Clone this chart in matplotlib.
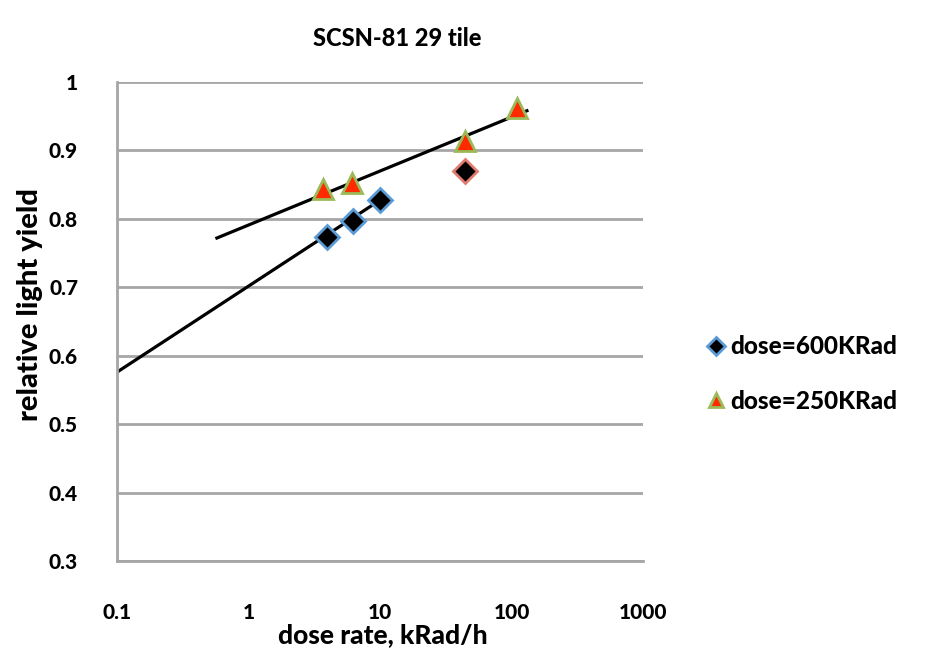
import numpy as np
import matplotlib
matplotlib.use('Agg')
import matplotlib.pyplot as plt

plt.rcParams['font.family'] = ['Lato', 'DejaVu Sans']
plt.rcParams['font.weight'] = 'bold'

# Datos
rate_600 = [3.95, 6.2, 10.0]
yield_600 = [0.774, 0.797, 0.828]
rate_600_extra = [44.0]
yield_600_extra = [0.870]

rate_250 = [3.7, 6.1, 44.0, 110.0]
yield_250 = [0.843, 0.852, 0.914, 0.962]

# Lineas de tendencia (extremos)
trend_600_x = [0.1, 10.5]
trend_600_y = [0.576, 0.830]
trend_250_x = [0.575, 131.0]
trend_250_y = [0.772, 0.958]

fig = plt.figure(figsize=(9.29, 6.66), dpi=100)
ax = fig.add_axes([117/929, 1-561/666, (643-117)/929, (561-82)/666])

ax.set_xscale('log')
ax.set_xlim(0.1, 1000)
ax.set_ylim(0.3, 1.0)

ax.plot(trend_600_x, trend_600_y, color='black', lw=2.3, zorder=2)
ax.plot(trend_250_x, trend_250_y, color='black', lw=2.3, zorder=2)

ax.plot(rate_600, yield_600, linestyle='none', marker='D', ms=12,
        mfc='black', mec='#5B9BD5', mew=2, zorder=3, label='dose=600KRad')
ax.plot(rate_600_extra, yield_600_extra, linestyle='none', marker='D', ms=12,
        mfc='black', mec='#E07B72', mew=2, zorder=3)
ax.plot(rate_250, yield_250, linestyle='none', marker='^', ms=14,
        mfc='#FF2A00', mec='#9BBB59', mew=2, zorder=3, label='dose=250KRad')

ax.set_yticks([0.3, 0.4, 0.5, 0.6, 0.7, 0.8, 0.9, 1.0])
ax.set_yticklabels(['0.3', '0.4', '0.5', '0.6', '0.7', '0.8', '0.9', '1'])
ax.set_xticks([0.1, 1, 10, 100, 1000])
ax.set_xticklabels(['0.1', '1', '10', '100', '1000'])
ax.minorticks_off()
ax.tick_params(length=0, labelsize=15)
ax.tick_params(axis='x', pad=30)
ax.tick_params(axis='y', pad=28)
for lbl in ax.get_xticklabels() + ax.get_yticklabels():
    lbl.set_fontweight('black')

ax.grid(axis='y', color='#A6A6A6', lw=2)
ax.set_axisbelow(True)
for s in ['top', 'right']:
    ax.spines[s].set_visible(False)
for s in ['left', 'bottom']:
    ax.spines[s].set_color('#A6A6A6')
    ax.spines[s].set_linewidth(2)

ax.set_xlabel('dose rate, kRad/h', fontsize=19, fontweight='black', va='center')
ax.xaxis.set_label_coords((383-117)/526, (561-635)/479)
ax.set_ylabel('relative light yield', fontsize=21, fontweight='black',
              va='center', ha='center')
ax.yaxis.set_label_coords((30-117)/526, (561-305)/479)
fig.text(397/929, 1-38/666, 'SCSN-81 29 tile', fontsize=17, fontweight='black',
         ha='center', va='center')

leg = ax.legend(loc='center left', bbox_to_anchor=(1.075, 0.39), frameon=False,
                fontsize=17.5, handletextpad=0.05, labelspacing=1.3, markerscale=0.75,
                handlelength=1.0)
for t in leg.get_texts():
    t.set_fontweight('black')

fig.savefig('out.png', dpi=100)
